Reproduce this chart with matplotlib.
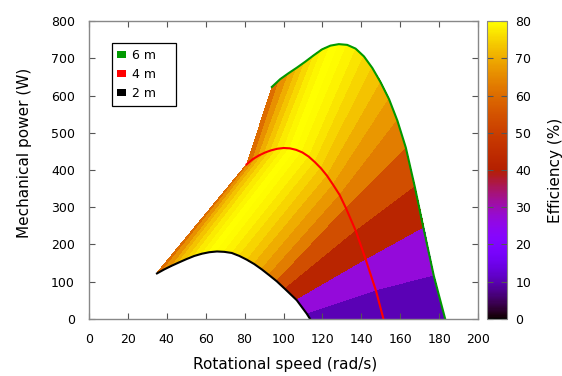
import matplotlib
matplotlib.use("Agg")
import matplotlib.pyplot as plt
import numpy as np
from matplotlib.patches import Patch

# Kurvene lest av bildet: rotasjonshastighet (rad/s) og mekanisk effekt (W)
omega_2m = [35.0, 38.8, 42.7, 46.5, 50.4, 54.2, 58.1, 61.9, 65.8, 69.6, 73.4,
            77.3, 81.1, 85.0, 88.8, 92.7, 96.5, 100.8, 106.8, 111.9, 113.6]
power_2m = [122, 133, 143, 152, 161, 169, 175, 179, 181, 180, 177,
            169, 159, 147, 133, 117, 101, 80, 50, 14, 0]

omega_4m = [81.0, 84.2, 87.4, 90.6, 93.8, 96.9, 100.1, 103.3, 106.5, 109.7, 112.9,
            116.1, 119.3, 122.4, 125.6, 128.8, 132.0, 137.2, 142.3, 147.5, 151.3]
power_4m = [415, 429, 439, 447, 453, 457, 459, 458, 454, 447, 436,
            421, 404, 384, 359, 333, 298, 235, 158, 75, 0]

omega_6m = [94.0, 98.3, 102.6, 106.9, 111.2, 115.5, 119.8, 124.1, 128.4, 132.7, 137.0,
            141.3, 145.6, 149.9, 154.2, 158.5, 162.8, 167.4, 171.9, 177.2, 183.0]
power_6m = [623, 644, 660, 675, 691, 708, 724, 734, 738, 736, 726,
            705, 674, 635, 590, 532, 460, 355, 243, 115, 0]

# Virkningsgrad (%) for hver stripe mellom punktene
efficiency = [60, 66, 70, 73, 75.5, 77.5, 79, 80, 79.5, 78.5, 77,
              75, 73, 70, 67, 63, 54, 42, 27, 10]

heads = ["6 m", "4 m", "2 m"]
line_colors = ["#009900", "#ff0000", "#000000"]

fig = plt.figure(figsize=(5.62, 3.76), dpi=100)
ax = fig.add_axes([0.158, 0.152, 0.693, 0.792])
cax = fig.add_axes([0.8665, 0.152, 0.0356, 0.792])

# Flatt fargede felt mellom 2 m-, 4 m- og 6 m-kurvene
X = np.array([omega_2m, omega_4m, omega_6m])
Y = np.array([power_2m, power_4m, power_6m])
C = np.array([efficiency, efficiency])
mesh = ax.pcolormesh(X, Y, C, cmap="gnuplot", vmin=0, vmax=80, shading="flat")

ax.plot(omega_2m, power_2m, color=line_colors[2], lw=1.5)
ax.plot(omega_4m, power_4m, color=line_colors[1], lw=1.5)
ax.plot(omega_6m, power_6m, color=line_colors[0], lw=1.5)

ax.set_xlim(0, 200)
ax.set_ylim(0, 800)
ax.set_xticks(range(0, 201, 20))
ax.set_yticks(range(0, 801, 100))
ax.tick_params(direction="in", top=True, right=True, length=4, width=0.8,
               color="#555555", labelsize=9)
ax.tick_params(axis="x", pad=10)
ax.tick_params(axis="y", pad=10)
for s in ax.spines.values():
    s.set_color("#888888")
    s.set_linewidth(1.0)
ax.set_xlabel("Rotational speed (rad/s)", fontsize=11)
ax.set_ylabel("Mechanical power (W)", fontsize=11)
ax.xaxis.set_label_coords(0.505, -0.128)
ax.yaxis.set_label_coords(-0.146, 0.557)

handles = [Patch(facecolor=c, edgecolor="none") for c in line_colors]
leg = ax.legend(handles, heads, loc="upper left",
                bbox_to_anchor=(0.059, 0.715, 0.165, 0.211), mode="expand",
                borderaxespad=0, fontsize=9, handlelength=0.65, handleheight=0.45,
                handletextpad=0.5, labelspacing=0.5, borderpad=0.45, fancybox=False,
                framealpha=1, edgecolor="#000000")
leg.get_frame().set_linewidth(0.9)

cb = fig.colorbar(mesh, cax=cax)
cb.set_ticks(range(0, 81, 10))
cb.ax.tick_params(direction="in", length=4, width=0.8, color="#555555",
                  labelsize=9, pad=6, left=True, right=True)
cb.outline.set_edgecolor("#888888")
cb.set_label("Efficiency (%)", fontsize=11, labelpad=12)

fig.savefig("out.png", dpi=100)
